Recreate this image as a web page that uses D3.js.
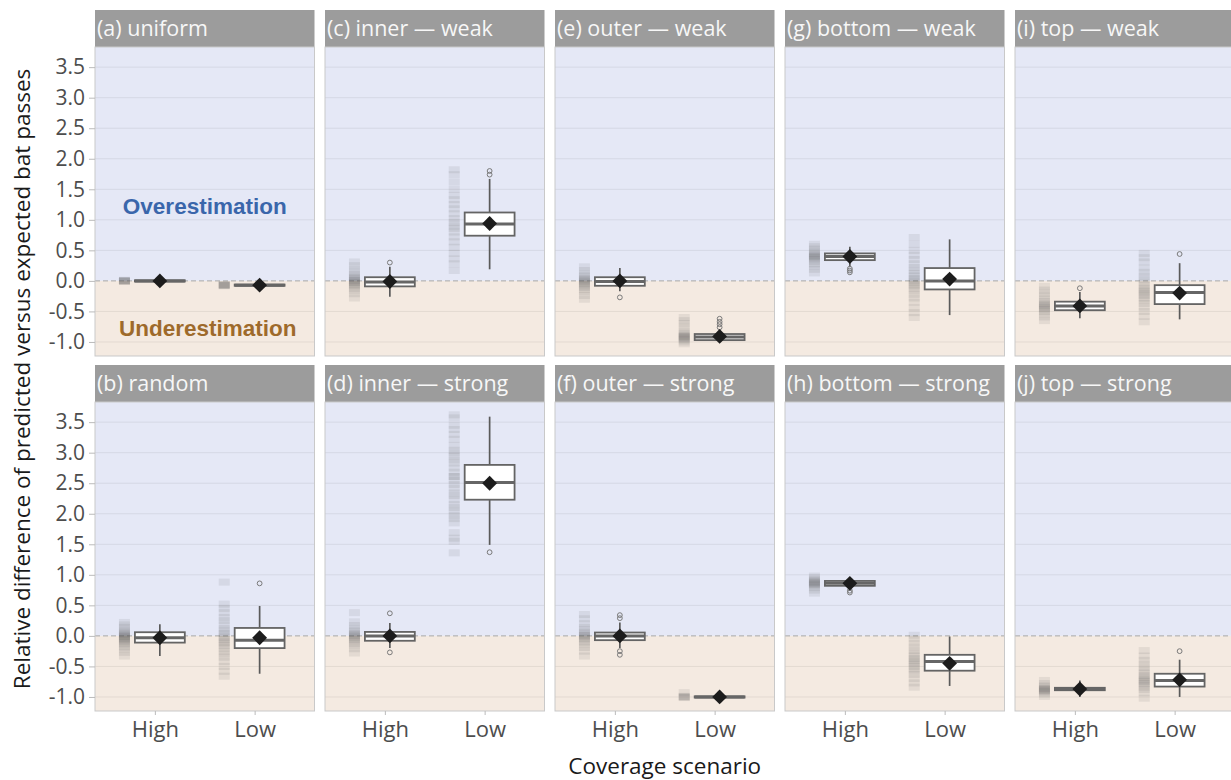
<!DOCTYPE html>
<html>
<head>
<meta charset="utf-8">
<script src="https://cdn.jsdelivr.net/npm/d3@7"></script>
<style>
  body { margin: 0; background: #fff; }
  text { font-family: "Open Sans", sans-serif; }
</style>
</head>
<body>
<div id="chart"></div>
<script>
// ---- data ----
const scenarios = ["High", "Low"];
const panelTitles = ["(a) uniform", "(b) random", "(c) inner \u2014 weak", "(d) inner \u2014 strong",
  "(e) outer \u2014 weak", "(f) outer \u2014 strong", "(g) bottom \u2014 weak", "(h) bottom \u2014 strong",
  "(i) top \u2014 weak", "(j) top \u2014 strong"];
const yTicks = [-1.0, -0.5, 0.0, 0.5, 1.0, 1.5, 2.0, 2.5, 3.0, 3.5];

// box stats per panel: [High, Low]
const whiskLo = [[-0.02, -0.09], [-0.33, -0.62], [-0.26, 0.19], [-0.2, 1.49], [-0.17, -0.99],
  [-0.2, -1.02], [0.23, -0.56], [0.78, -0.82], [-0.61, -0.63], [-1.0, -1.0]];
const q1 = [[-0.01, -0.08], [-0.11, -0.2], [-0.09, 0.74], [-0.08, 2.23], [-0.08, -0.97],
  [-0.07, -1.01], [0.34, -0.14], [0.82, -0.57], [-0.48, -0.38], [-0.89, -0.83]];
const med = [[0.0, -0.07], [-0.03, -0.07], [-0.02, 0.93], [0.0, 2.51], [-0.01, -0.92],
  [0.0, -1.0], [0.4, 0.0], [0.86, -0.42], [-0.41, -0.19], [-0.87, -0.73]];
const q3 = [[0.01, -0.06], [0.06, 0.13], [0.06, 1.12], [0.065, 2.8], [0.06, -0.87],
  [0.055, -0.99], [0.45, 0.21], [0.9, -0.31], [-0.34, -0.07], [-0.85, -0.62]];
const whiskHi = [[0.02, -0.05], [0.19, 0.49], [0.23, 1.67], [0.21, 3.59], [0.21, -0.8],
  [0.22, -0.98], [0.56, 0.68], [0.95, -0.01], [-0.18, 0.29], [-0.73, -0.39]];
const means = [[0.0, -0.07], [-0.03, -0.03], [-0.01, 0.94], [0.0, 2.5], [0.0, -0.91],
  [0.0, -1.0], [0.4, 0.03], [0.86, -0.45], [-0.41, -0.2], [-0.87, -0.72]];
const outliers = [[[], []], [[], [0.86]], [[0.3], [1.74, 1.8]], [[0.37, -0.27], [1.37]],
  [[-0.27], [-0.62, -0.67, -0.71, -0.76]], [[0.34, 0.29, -0.25, -0.31], []],
  [[0.2, 0.17, 0.14], []], [[0.74, 0.71], []], [[-0.12], [0.44]], [[], [-0.25]]];

// individual replicate values (strips left of each box)
const stripHigh = [
  [0.0, 0.0, 0.0, 0.0, 0.01, -0.01],
  [0.22, 0.18, 0.14, 0.1, 0.07, 0.05, 0.03, 0.02, 0.0, -0.01, -0.02, -0.04, -0.05, -0.06, -0.08, -0.1, -0.12, -0.15, -0.18, -0.22, -0.27, -0.33],
  [0.31, 0.25, 0.19, 0.14, 0.1, 0.07, 0.05, 0.03, 0.01, 0.0, -0.02, -0.03, -0.05, -0.07, -0.09, -0.12, -0.16, -0.21, -0.28],
  [0.38, 0.23, 0.17, 0.12, 0.08, 0.05, 0.03, 0.01, 0.0, -0.02, -0.04, -0.06, -0.09, -0.12, -0.16, -0.21, -0.28],
  [0.23, 0.17, 0.12, 0.08, 0.05, 0.03, 0.01, 0.0, -0.02, -0.04, -0.06, -0.08, -0.11, -0.14, -0.18, -0.24, -0.3],
  [0.35, 0.28, 0.2, 0.14, 0.1, 0.06, 0.03, 0.01, 0.0, -0.02, -0.04, -0.07, -0.1, -0.14, -0.19, -0.25, -0.33],
  [0.6, 0.56, 0.52, 0.48, 0.45, 0.43, 0.41, 0.4, 0.39, 0.37, 0.35, 0.32, 0.28, 0.24, 0.19, 0.13],
  [0.98, 0.95, 0.92, 0.9, 0.88, 0.87, 0.86, 0.85, 0.84, 0.82, 0.79, 0.75, 0.7],
  [-0.09, -0.15, -0.2, -0.25, -0.3, -0.34, -0.37, -0.39, -0.41, -0.43, -0.45, -0.47, -0.5, -0.54, -0.59, -0.65],
  [-0.73, -0.78, -0.82, -0.84, -0.86, -0.87, -0.88, -0.89, -0.9, -0.92, -0.95, -0.99]
];
const stripLow = [
  [-0.07, -0.07, -0.07, -0.07, -0.06, -0.08],
  [0.88, 0.52, 0.45, 0.38, 0.3, 0.25, 0.18, 0.12, 0.08, 0.04, 0.0, -0.03, -0.06, -0.1, -0.12, -0.16, -0.2, -0.25, -0.3, -0.35, -0.42, -0.5, -0.58, -0.66],
  [1.82, 1.74, 1.62, 1.5, 1.4, 1.33, 1.25, 1.18, 1.1, 1.02, 0.96, 0.9, 0.86, 0.8, 0.72, 0.64, 0.55, 0.45, 0.36, 0.28, 0.17],
  [3.62, 3.57, 3.45, 3.38, 3.3, 3.22, 3.12, 3.04, 3.0, 2.94, 2.88, 2.83, 2.75, 2.68, 2.61, 2.61, 2.55, 2.48, 2.42, 2.34, 2.3, 2.23, 2.15, 2.1, 2.04, 1.97, 1.92, 1.85, 1.69, 1.6, 1.55, 1.36],
  [-0.6, -0.65, -0.7, -0.76, -0.82, -0.86, -0.88, -0.9, -0.91, -0.92, -0.93, -0.95, -0.97, -1.0, -1.03],
  [-0.93, -0.99, -1.0, -1.0, -1.01],
  [0.71, 0.6, 0.5, 0.42, 0.35, 0.28, 0.22, 0.17, 0.12, 0.08, 0.04, 0.01, -0.02, -0.05, -0.08, -0.12, -0.16, -0.22, -0.28, -0.35, -0.44, -0.52, -0.6],
  [0.01, -0.05, -0.12, -0.18, -0.24, -0.29, -0.33, -0.37, -0.4, -0.43, -0.46, -0.5, -0.54, -0.58, -0.63, -0.7, -0.77, -0.84],
  [0.45, 0.38, 0.31, 0.21, 0.14, 0.08, 0.02, -0.03, -0.08, -0.12, -0.15, -0.18, -0.21, -0.24, -0.28, -0.32, -0.37, -0.43, -0.5, -0.58, -0.67],
  [-0.24, -0.33, -0.4, -0.46, -0.52, -0.57, -0.61, -0.65, -0.68, -0.71, -0.73, -0.75, -0.78, -0.81, -0.84, -0.88, -0.93, -1.02]
];

// ---- layout ----
const width = 1231, height = 780;
const left = 95, colStep = 230, panelW = 219.5;
const stripTop = [10, 365], stripH = 37, panelH = 309;

const svg = d3.select("#chart").append("svg")
  .attr("width", width).attr("height", height);

const x = d3.scalePoint().domain(scenarios).range([0, panelW]).padding(0.6);
const step = x.step();
const y = d3.scaleLinear().domain([-1.23, 3.83]).range([panelH, 0]);

panelTitles.forEach((title, i) => {
  const col = Math.floor(i / 2), row = i % 2;
  const gx = left + col * colStep, gy = stripTop[row] + stripH;

  // strip header
  svg.append("rect").attr("x", gx).attr("y", stripTop[row])
    .attr("width", panelW).attr("height", stripH).attr("fill", "#9c9c9c");
  svg.append("text").attr("x", gx + 2).attr("y", stripTop[row] + stripH / 2)
    .attr("dy", "0.35em").attr("fill", "#f7f7f7").style("font-size", "21.5px").text(title);

  const g = svg.append("g").attr("transform", `translate(${gx},${gy})`);

  // over / under backgrounds
  g.append("rect").attr("x", 0).attr("y", 0).attr("width", panelW).attr("height", y(0))
    .attr("fill", "#e5e8f6");
  g.append("rect").attr("x", 0).attr("y", y(0)).attr("width", panelW).attr("height", panelH - y(0))
    .attr("fill", "#f4eae1");

  g.selectAll(".grid").data(yTicks.filter(d => d !== 0)).join("line")
    .attr("x1", 0).attr("x2", panelW)
    .attr("y1", d => y(d)).attr("y2", d => y(d))
    .attr("stroke", "#000").attr("stroke-opacity", 0.07);
  g.append("line").attr("x1", 0).attr("x2", panelW).attr("y1", y(0)).attr("y2", y(0))
    .attr("stroke", "#a8a8a8").attr("stroke-dasharray", "5,3");

  if (i === 0) {
    g.append("text").attr("x", panelW / 2).attr("y", y(1.23)).attr("dy", "0.35em")
      .attr("text-anchor", "middle").attr("fill", "#3a66ab")
      .style("font-family", "'Liberation Sans', Arial, sans-serif")
      .style("font-weight", "bold").style("font-size", "22.5px").text("Overestimation");
    g.append("text").attr("x", panelW / 2 + 3).attr("y", y(-0.77)).attr("dy", "0.35em")
      .attr("text-anchor", "middle").attr("fill", "#9e6a2b")
      .style("font-family", "'Liberation Sans', Arial, sans-serif")
      .style("font-weight", "bold").style("font-size", "22.5px").text("Underestimation");
  }

  const strips = [stripHigh[i], stripLow[i]];
  scenarios.forEach((s, k) => {
    const cx = x(s);
    // replicate strip
    g.selectAll(null).data(strips[k]).join("rect")
      .attr("x", cx - 0.36 * step).attr("width", 0.11 * step)
      .attr("y", d => y(d) - 3.5).attr("height", 7)
      .attr("fill", "#4a4a4a").attr("fill-opacity", 0.1);

    const bx = cx + 0.05 * step;
    // whiskers
    g.append("line").attr("x1", bx).attr("x2", bx)
      .attr("y1", y(whiskLo[i][k])).attr("y2", y(whiskHi[i][k]))
      .attr("stroke", "#5a5a5a").attr("stroke-width", 1.7);
    // box
    g.append("rect").attr("x", cx - 0.2 * step).attr("width", 0.5 * step)
      .attr("y", y(q3[i][k])).attr("height", Math.max(0.5, y(q1[i][k]) - y(q3[i][k])))
      .attr("fill", "#fff").attr("stroke", "#646464").attr("stroke-width", 1.8);
    g.append("line").attr("x1", cx - 0.2 * step).attr("x2", cx + 0.3 * step)
      .attr("y1", y(med[i][k])).attr("y2", y(med[i][k]))
      .attr("stroke", "#666").attr("stroke-width", 3);
    // outliers
    g.selectAll(null).data(outliers[i][k]).join("circle")
      .attr("cx", bx).attr("cy", d => y(d)).attr("r", 2.4)
      .attr("fill", "none").attr("stroke", "#7a7a7a").attr("stroke-width", 1);
    // mean diamond
    g.append("path").attr("d", d3.symbol(d3.symbolSquare, 110)())
      .attr("transform", `translate(${bx},${y(means[i][k])}) rotate(45)`)
      .attr("fill", "#1c1c1c");
  });

  g.append("rect").attr("x", 0).attr("y", 0).attr("width", panelW).attr("height", panelH)
    .attr("fill", "none").attr("stroke", "#c9c9c9");

  if (col === 0) {
    const ay = g.append("g").call(d3.axisLeft(y).tickValues(yTicks)
      .tickFormat(d => d.toFixed(1)).tickSize(6).tickPadding(4));
    ay.select(".domain").remove();
    ay.selectAll("line").attr("stroke", "#bbbbbb");
    ay.selectAll("text").attr("fill", "#4d4d4d").style("font-size", "21px")
      .style("font-family", "'Open Sans', sans-serif");
  }
  if (row === 1) {
    const ax = g.append("g").attr("transform", `translate(0,${panelH})`)
      .call(d3.axisBottom(x).tickSize(4).tickPadding(6));
    ax.select(".domain").remove();
    ax.selectAll("line").attr("stroke", "#bbbbbb");
    ax.selectAll("text").attr("fill", "#4d4d4d").style("font-size", "22px")
      .style("font-family", "'Open Sans', sans-serif");
  }
});

// axis titles
svg.append("text").attr("x", left + (4 * colStep + panelW) / 2).attr("y", 766)
  .attr("dy", "0.35em").attr("text-anchor", "middle").attr("fill", "#1a1a1a")
  .style("font-size", "22.5px").text("Coverage scenario");
svg.append("text").attr("transform", `translate(22,${(stripTop[0] + stripH + stripTop[1] + stripH + panelH) / 2}) rotate(-90)`)
  .attr("dy", "0.35em").attr("text-anchor", "middle").attr("fill", "#1a1a1a")
  .style("font-size", "22.5px").text("Relative difference of predicted versus expected bat passes");
</script>
</body>
</html>
